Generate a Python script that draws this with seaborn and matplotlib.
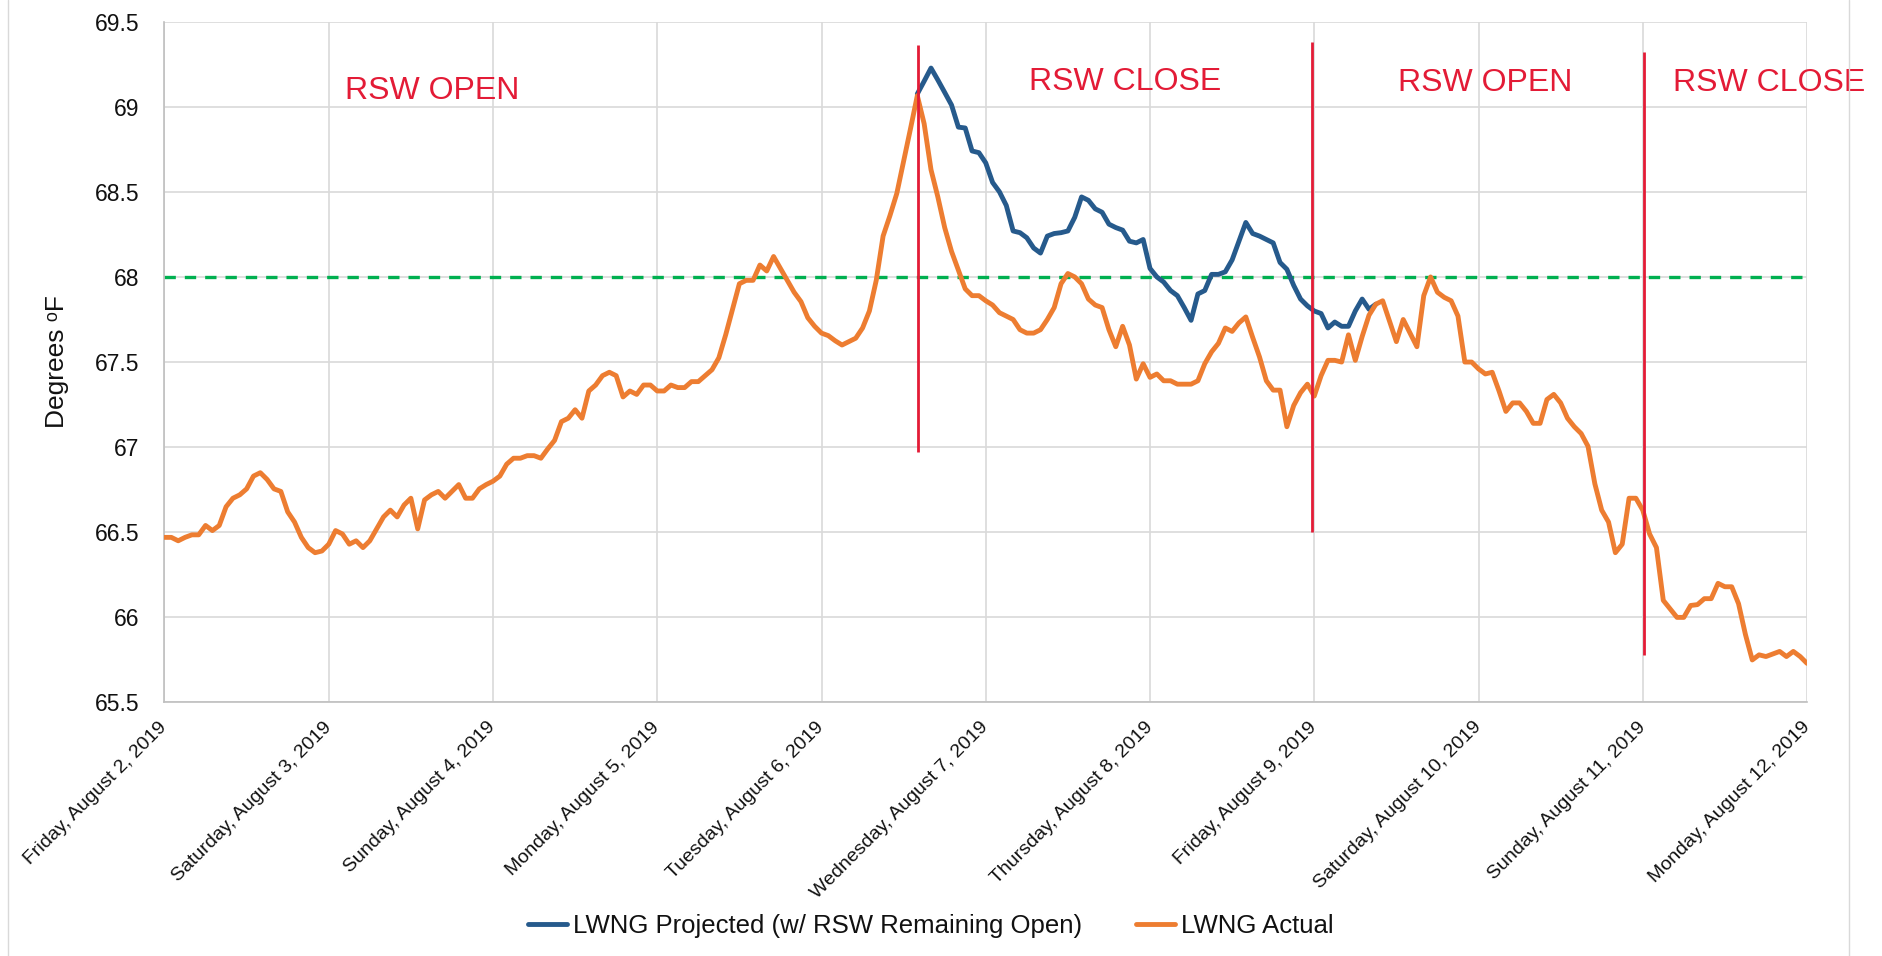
import numpy as np
import pandas as pd
import matplotlib
matplotlib.use("Agg")
import matplotlib.pyplot as plt
from matplotlib.lines import Line2D
from matplotlib.ticker import FuncFormatter
import seaborn as sns

# hourly readings, Fri Aug 2 00:00 -> Mon Aug 12 00:00 (deg F)
actual_temp = [
    66.47, 66.47, 66.45, 66.47, 66.485, 66.485, 66.54, 66.51, 66.54, 66.65, 66.70, 66.72,
    66.755, 66.83, 66.85, 66.81, 66.755, 66.74, 66.62, 66.56, 66.47, 66.41, 66.38, 66.39, 66.43,
    66.51, 66.49, 66.43, 66.45, 66.41, 66.45, 66.52, 66.59, 66.63, 66.59, 66.66, 66.70,
    66.52, 66.69, 66.72, 66.74, 66.70, 66.74, 66.78, 66.70, 66.70, 66.755, 66.78,
    66.80, 66.83, 66.90, 66.935, 66.935, 66.95, 66.95, 66.935, 66.99, 67.04, 67.15, 67.17,
    67.22, 67.17, 67.33, 67.365, 67.42, 67.44, 67.42, 67.295, 67.33, 67.31, 67.365, 67.365,
    67.33, 67.33, 67.365, 67.35, 67.35, 67.385, 67.385, 67.42, 67.455, 67.525, 67.66, 67.81,
    67.96, 67.98, 67.98, 68.07, 68.035, 68.12, 68.05, 67.98, 67.91, 67.855, 67.76, 67.71,
    67.67, 67.655, 67.625, 67.60, 67.62, 67.64, 67.70, 67.80, 67.98, 68.24, 68.36, 68.49,
    68.68, 68.87, 69.065, 68.90, 68.63, 68.47, 68.29, 68.15, 68.04, 67.93, 67.89, 67.89,
    67.86, 67.835, 67.79, 67.77, 67.75, 67.69, 67.67, 67.67, 67.69, 67.75, 67.82, 67.96,
    68.02, 68.00, 67.96, 67.87, 67.835, 67.82, 67.69, 67.59, 67.71, 67.60, 67.40, 67.49,
    67.41, 67.43, 67.39, 67.39, 67.37, 67.37, 67.37, 67.39, 67.49, 67.56, 67.61, 67.70,
    67.68, 67.73, 67.765, 67.645, 67.53, 67.39, 67.335, 67.335, 67.12, 67.245, 67.32, 67.37,
    67.30, 67.42, 67.51, 67.51, 67.50, 67.66, 67.51, 67.65, 67.775, 67.84, 67.86, 67.74,
    67.62, 67.75, 67.67, 67.59, 67.89, 68.00, 67.91, 67.88, 67.86, 67.77, 67.50, 67.50,
    67.46, 67.43, 67.44, 67.33, 67.21, 67.26, 67.26, 67.21, 67.14, 67.14, 67.28, 67.31,
    67.26, 67.17, 67.12, 67.08, 67.005, 66.785, 66.63, 66.56, 66.38, 66.43, 66.70, 66.70,
    66.63, 66.49, 66.41, 66.10, 66.05, 66.00, 66.00, 66.07, 66.075, 66.11, 66.11, 66.20,
    66.18, 66.18, 66.08, 65.90, 65.75, 65.78, 65.77, 65.785, 65.80, 65.77, 65.80, 65.77, 65.73,
]

# projection if RSW had stayed open, starts at hour 110 (Tue Aug 6 14:00)
projected_start_hour = 110
projected_temp = [
    69.075, 69.15, 69.227, 69.157, 69.084, 69.01, 68.88, 68.875, 68.74, 68.73,
    68.67, 68.555, 68.50, 68.42, 68.27, 68.26, 68.23, 68.17, 68.14, 68.24,
    68.255, 68.26, 68.27, 68.35, 68.47, 68.45, 68.40, 68.38, 68.31, 68.29,
    68.275, 68.21, 68.20, 68.22, 68.05, 68.00, 67.97, 67.92, 67.89, 67.82,
    67.745, 67.90, 67.92, 68.015, 68.015, 68.03, 68.10, 68.21, 68.32, 68.255,
    68.24, 68.22, 68.20, 68.085, 68.045, 67.95, 67.87, 67.83, 67.80, 67.785,
    67.70, 67.735, 67.71, 67.71, 67.80, 67.87, 67.81, 67.84,
]

day_labels = [
    "Friday, August 2, 2019", "Saturday, August 3, 2019", "Sunday, August 4, 2019",
    "Monday, August 5, 2019", "Tuesday, August 6, 2019", "Wednesday, August 7, 2019",
    "Thursday, August 8, 2019", "Friday, August 9, 2019", "Saturday, August 10, 2019",
    "Sunday, August 11, 2019", "Monday, August 12, 2019",
]

setpoint = 68.0

# RSW switch markers (days since Aug 2)
switch_day = [4.586, 6.988, 9.005]
switch_bottom = [66.97, 66.50, 65.78]
switch_top = [69.36, 69.38, 69.32]

note_text = ["RSW OPEN", "RSW CLOSE", "RSW OPEN", "RSW CLOSE"]
note_day = [1.097, 5.261, 7.51, 9.187]
note_y = [69.043, 69.098, 69.094, 69.094]

actual = pd.DataFrame({"day": np.arange(len(actual_temp)) / 24, "temp": actual_temp})
projected = pd.DataFrame({
    "day": (projected_start_hour + np.arange(len(projected_temp))) / 24,
    "temp": projected_temp,
})

sns.set_style("white")
plt.rcParams["font.family"] = ["Liberation Sans", "DejaVu Sans"]
plt.rcParams["text.color"] = "#111111"
plt.rcParams["xtick.color"] = "#111111"
plt.rcParams["ytick.color"] = "#111111"
plt.rcParams["axes.labelcolor"] = "#111111"

RED = "#E31B36"

fig = plt.figure(figsize=(18.83, 9.56), dpi=100)
ax = fig.add_axes([0.08736, 0.26517, 0.87228, 0.71224])

sns.lineplot(data=projected, x="day", y="temp", ax=ax, color="#265A8C", lw=3.0,
             label="LWNG Projected (w/ RSW Remaining Open)", zorder=3)
sns.lineplot(data=actual, x="day", y="temp", ax=ax, color="#ED7D31", lw=3.0,
             label="LWNG Actual", zorder=3)

ax.axhline(setpoint, color="#00B050", lw=2.4, dashes=(3.4, 2.7), zorder=2)
ax.vlines(switch_day, switch_bottom, switch_top, color=RED, lw=2.0, zorder=4)

for txt, xd, yv in zip(note_text, note_day, note_y):
    ax.text(xd, yv, txt, color=RED, fontsize=23, ha="left", va="baseline", clip_on=False)

ax.set_xlim(0, 10)
ax.set_ylim(65.5, 69.5)
ax.set_xticks(np.arange(len(day_labels)))
ax.set_xticklabels(day_labels, rotation=45, ha="right", va="center", rotation_mode="anchor",
                   fontsize=14)
ax.set_yticks(np.arange(65.5, 69.51, 0.5))
ax.yaxis.set_major_formatter(FuncFormatter(lambda v, p: f"{v:g}"))
ax.tick_params(axis="y", length=0, pad=18, labelsize=16.5)
ax.tick_params(axis="x", length=0, pad=16)

ax.grid(True, color="#D9D9D9", lw=1.2)
ax.set_axisbelow(True)
for s in ["top", "right"]:
    ax.spines[s].set_visible(False)
for s in ["left", "bottom"]:
    ax.spines[s].set_color("#BFBFBF")
    ax.spines[s].set_linewidth(1.2)

ax.set_xlabel("")
ax.set_ylabel("Degrees ᵒF", fontsize=19)
ax.yaxis.set_label_coords(-0.058, 0.5)

handles, labels = ax.get_legend_handles_labels()
ax.get_legend().remove()
for h in handles:
    h.set_linewidth(3.5)
fig.legend(handles, labels, loc="center", bbox_to_anchor=(0.4945, 0.0317), ncol=2,
           frameon=False, fontsize=18.5, handlelength=1.5, handletextpad=0.25,
           columnspacing=2.1)

# outer chart-area border
for xf in [8 / 1883, 1849 / 1883]:
    fig.add_artist(Line2D([xf, xf], [0, 1], transform=fig.transFigure, color="#D9D9D9", lw=1))

fig.savefig("out.png", dpi=100)
